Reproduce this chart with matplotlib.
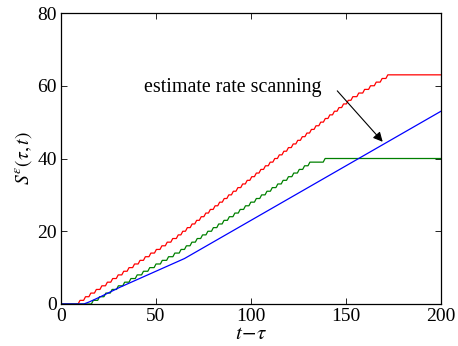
import numpy as np
import matplotlib
matplotlib.use("Agg")
import matplotlib.pyplot as plt

plt.rcParams['font.family'] = ['Liberation Serif', 'DejaVu Serif']
plt.rcParams['mathtext.fontset'] = 'stix'

# Times at which each cumulative count increments (one unit per step)
red_step_t = [
    10.0, 12.9, 15.7, 18.6, 21.5, 24.4, 27.2, 30.1, 33.0, 35.8,
    38.7, 41.6, 44.4, 47.3, 50.2, 53.1, 55.9, 58.8, 61.7, 64.1,
    66.5, 69.0, 71.4, 73.8, 76.2, 78.6, 81.1, 83.5, 85.9, 88.3,
    90.7, 93.1, 95.6, 98.0, 100.4, 102.8, 105.2, 107.6, 110.1, 112.5,
    114.9, 117.3, 119.7, 122.2, 124.6, 127.0, 129.4, 131.8, 134.2, 136.7,
    139.1, 141.5, 143.9, 146.3, 148.7, 151.2, 153.6, 156.7, 159.8, 162.9,
    165.9, 169.0, 172.0,
]
green_step_t = [
    17.0, 20.3, 23.6, 26.9, 30.2, 33.5, 36.8, 40.1, 43.4, 46.7,
    50.0, 53.3, 56.6, 59.9, 63.2, 66.0, 68.9, 71.7, 74.5, 77.3,
    80.2, 83.0, 85.8, 88.6, 91.5, 94.3, 97.1, 99.9, 102.8, 105.6,
    108.4, 111.2, 114.1, 116.9, 119.7, 122.5, 125.4, 128.2, 131.0, 139.0,
]

# Smooth estimate (piecewise linear)
blue_t = [0, 12, 15, 20, 31, 65, 200]
blue_s = [0, 0, 0.6, 1.8, 4.6, 12.5, 53.0]

t_end = 200
dt = 1.0  # sampling interval of the counts: each increment spans one sample


def staircase(step_times, t_end, dt):
    t, s = [0.0], [0]
    for k, tk in enumerate(step_times, start=1):
        t += [tk - dt, tk]
        s += [k - 1, k]
    t.append(t_end)
    s.append(len(step_times))
    return t, s


fig = plt.figure(figsize=(4.58, 3.46), dpi=100)
ax = fig.add_axes([0.1332, 0.1214, 0.8297, 0.841])

rt, rs = staircase(red_step_t, t_end, dt)
gt, gs = staircase(green_step_t, t_end, dt)
ax.plot(rt, rs, color=(1, 0, 0), lw=0.9)
ax.plot(gt, gs, color=(0, 0.5, 0), lw=0.9)
ax.plot(blue_t, blue_s, color=(0, 0, 1), lw=0.9)

ax.set_xlim(0, 200)
ax.set_ylim(0, 80)
ax.set_xticks([0, 50, 100, 150, 200])
ax.set_yticks([0, 20, 40, 60, 80])
ax.tick_params(direction='in', top=True, right=True, labelsize=14,
               length=4, width=0.6, pad=3)
for sp in ax.spines.values():
    sp.set_linewidth(0.9)

ax.set_xlabel(r'$t\!-\!\tau$', fontsize=15, labelpad=0)
ax.set_ylabel(r'$S^{\varepsilon}(\tau,t)$', fontsize=14, labelpad=2)

ax.text(43.7, 58.2, 'estimate rate scanning', fontsize=14.4,
        ha='left', va='baseline')
ax.annotate('', xy=(169.3, 44.6), xytext=(145.4, 58.6),
            arrowprops=dict(arrowstyle='-|>', color='k', lw=0.8,
                            mutation_scale=14, shrinkA=0, shrinkB=0))

fig.savefig('out.png', dpi=100)
